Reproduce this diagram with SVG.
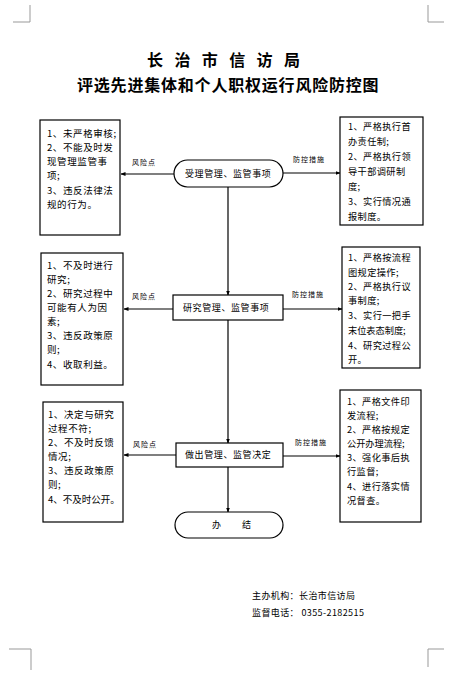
<svg xmlns="http://www.w3.org/2000/svg" width="455" height="678" viewBox="0 0 455 678">
<style>
text{font-family:"Noto Sans CJK SC","Noto Sans",sans-serif;fill:#000}
.t1{font-size:16px;font-weight:bold;letter-spacing:11.4px}
.t2{font-size:16px;font-weight:bold;letter-spacing:0.8px}
.box{fill:#fff;stroke:#000;stroke-width:1.2}
.lt{font-size:9.5px;letter-spacing:0.6px}
.rt{font-size:9.2px;letter-spacing:0.4px}
.ct{font-size:9px;letter-spacing:0.6px}
.lbl{font-size:7px;letter-spacing:1px}
.ft{font-size:9px;letter-spacing:0.4px}
.ln{stroke:#000;stroke-width:1.2;fill:none}
.crn{stroke:#999;stroke-width:1;fill:none}
</style>
<defs>
<marker id="ah" viewBox="0 0 10 10" refX="9" refY="5" markerWidth="5" markerHeight="5" orient="auto" markerUnits="userSpaceOnUse">
<path d="M0,1 L10,5 L0,9 z" fill="#000"/>
</marker>
</defs>
<rect width="455" height="678" fill="#fff"/>
<g id="corners">
<path class="crn" d="M30,5 V22 H13"/>
<path class="crn" d="M428,5 V22 H444"/>
<path class="crn" d="M9,649 H31 V670"/>
<path class="crn" d="M444,649 H428 V667"/>
</g>
<g id="title">
<text class="t1" x="147" y="66">长治市信访局</text>
<text class="t2" x="77" y="91">评选先进集体和个人职权运行风险防控图</text>
</g>
<g id="connectors">
<line class="ln" x1="228" y1="187" x2="228" y2="295" marker-end="url(#ah)"/>
<line class="ln" x1="228" y1="320" x2="228" y2="443" marker-end="url(#ah)"/>
<line class="ln" x1="228" y1="467" x2="228" y2="512" marker-end="url(#ah)"/>
<line class="ln" x1="174" y1="174" x2="121" y2="174" marker-end="url(#ah)"/>
<line class="ln" x1="283" y1="173" x2="340" y2="173" marker-end="url(#ah)"/>
<line class="ln" x1="173" y1="309" x2="124" y2="309" marker-end="url(#ah)"/>
<line class="ln" x1="283" y1="309" x2="342" y2="309" marker-end="url(#ah)"/>
<line class="ln" x1="176" y1="455" x2="124" y2="455" marker-end="url(#ah)"/>
<line class="ln" x1="283" y1="456" x2="340" y2="456" marker-end="url(#ah)"/>
<text class="lbl" x="132" y="165">风险点</text>
<text class="lbl" x="293" y="162">防控措施</text>
<text class="lbl" x="132" y="299">风险点</text>
<text class="lbl" x="292" y="297">防控措施</text>
<text class="lbl" x="133" y="447">风险点</text>
<text class="lbl" x="295" y="445">防控措施</text>
</g>
<g id="step1">
<rect class="box" x="174" y="160" width="109" height="27" rx="13.5"/>
<text class="ct" x="185" y="177">受理管理、监管事项</text>
</g>
<g id="step2">
<rect class="box" x="173" y="295" width="110" height="25"/>
<text class="ct" x="183" y="311">研究管理、监管事项</text>
</g>
<g id="step3">
<rect class="box" x="176" y="443" width="107" height="24"/>
<text class="ct" x="185" y="458">做出管理、监管决定</text>
</g>
<g id="end">
<rect class="box" x="175" y="512" width="108" height="26" rx="13"/>
<text class="ct" x="212" y="528">办<tspan x="242">结</tspan></text>
</g>
<g id="risk1">
<rect class="box" x="40" y="120" width="80" height="115"/>
<text class="lt"><tspan x="47" y="137">1、未严格审核;</tspan><tspan x="47" y="151">2、不能及时发</tspan><tspan x="47" y="165">现管理监管事</tspan><tspan x="47" y="179">项;</tspan><tspan x="47" y="194">3、违反法律法</tspan><tspan x="47" y="208">规的行为。</tspan></text>
</g>
<g id="ctrl1">
<rect class="box" x="340" y="117" width="83" height="108"/>
<text class="rt"><tspan x="348" y="130">1、严格执行首</tspan><tspan x="348" y="145">办责任制;</tspan><tspan x="348" y="160">2、严格执行领</tspan><tspan x="348" y="175">导干部调研制</tspan><tspan x="348" y="190">度;</tspan><tspan x="348" y="205">3、实行情况通</tspan><tspan x="348" y="220">报制度。</tspan></text>
</g>
<g id="risk2">
<rect class="box" x="41" y="253" width="82" height="132"/>
<text class="lt"><tspan x="47" y="269">1、不及时进行</tspan><tspan x="47" y="283">研究;</tspan><tspan x="47" y="297">2、研究过程中</tspan><tspan x="47" y="311">可能有人为因</tspan><tspan x="47" y="325">素;</tspan><tspan x="47" y="339">3、违反政策原</tspan><tspan x="47" y="353">则;</tspan><tspan x="47" y="368">4、收取利益。</tspan></text>
</g>
<g id="ctrl2">
<rect class="box" x="342" y="247" width="78" height="121"/>
<text class="rt"><tspan x="348" y="261">1、严格按流程</tspan><tspan x="348" y="276">图规定操作;</tspan><tspan x="348" y="290">2、严格执行议</tspan><tspan x="348" y="304">事制度;</tspan><tspan x="348" y="319">3、实行一把手</tspan><tspan x="348" y="334" letter-spacing="0">末位表态制度;</tspan><tspan x="348" y="349">4、研究过程公</tspan><tspan x="348" y="363">开。</tspan></text>
</g>
<g id="risk3">
<rect class="box" x="43" y="402" width="80" height="120"/>
<text class="lt"><tspan x="48" y="418">1、决定与研究</tspan><tspan x="48" y="432">过程不符;</tspan><tspan x="48" y="446">2、不及时反馈</tspan><tspan x="48" y="460">情况;</tspan><tspan x="48" y="474">3、违反政策原</tspan><tspan x="48" y="488">则;</tspan><tspan x="48" y="503" letter-spacing="0">4、不及时公开。</tspan></text>
</g>
<g id="ctrl3">
<rect class="box" x="340" y="390" width="81" height="132"/>
<text class="rt"><tspan x="347" y="405">1、严格文件印</tspan><tspan x="347" y="419">发流程;</tspan><tspan x="347" y="433">2、严格按规定</tspan><tspan x="347" y="447" letter-spacing="0">公开办理流程;</tspan><tspan x="347" y="461">3、强化事后执</tspan><tspan x="347" y="475">行监督;</tspan><tspan x="347" y="490">4、进行落实情</tspan><tspan x="347" y="504">况督查。</tspan></text>
</g>
<g id="footer">
<text class="ft" x="252" y="599">主办机构：长治市信访局</text>
<text class="ft" x="252" y="616">监督电话： 0355-2182515</text>
</g>
</svg>
